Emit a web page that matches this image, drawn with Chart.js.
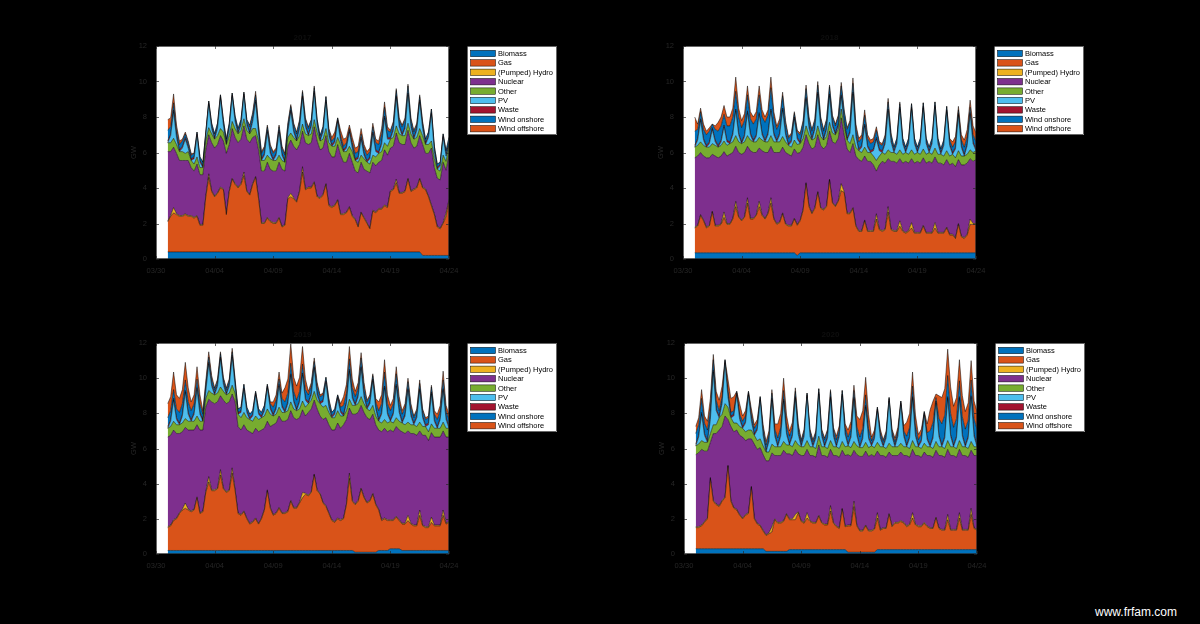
<!DOCTYPE html>
<html>
<head>
<meta charset="utf-8">
<script src="https://cdn.jsdelivr.net/npm/chart.js@4.4.1/dist/chart.umd.min.js"></script>
<style>
  html, body { margin: 0; background: #000; }
  body { width: 1200px; height: 624px; position: relative; overflow: hidden; }
  canvas { position: absolute; }
  #credit { position: absolute; left: 1095px; top: 605px; color: #fff; font: 12px "Liberation Sans", Arial, sans-serif; }
</style>
</head>
<body>
<canvas id="cA" width="470" height="270" style="left:100px;top:20px"></canvas>
<canvas id="cB" width="470" height="270" style="left:627px;top:20px"></canvas>
<canvas id="cC" width="470" height="268" style="left:100px;top:317px"></canvas>
<canvas id="cD" width="470" height="268" style="left:628px;top:317px"></canvas>
<div id="credit">www.frfam.com</div>
<script>
// 6-hourly values, 03/31 00:00 .. 04/24 00:00 (97 points), GW
const xTickLabels = ["03/30", "04/04", "04/09", "04/14", "04/19", "04/24"];
const panelTitles = ["2017", "2018", "2019", "2020"];
const seriesNames = ["Biomass", "Gas", "(Pumped) Hydro", "Nuclear", "Other", "PV", "Waste", "Wind onshore", "Wind offshore"];
const seriesColors = ["#0072BD", "#D95319", "#EDB120", "#7E2F8E", "#77AC30", "#4DBEEE", "#A2142F", "#0072BD", "#D95319"];

// ---- top left ----
const bioA = [
  0.4,0.4,0.4,0.4, 0.4,0.4,0.4,0.4,  0.4,0.4,0.4,0.4, 0.4,0.4,0.4,0.4,
  0.4,0.4,0.4,0.4, 0.4,0.4,0.4,0.4,  0.4,0.4,0.4,0.4, 0.4,0.4,0.4,0.4,
  0.4,0.4,0.4,0.4, 0.4,0.4,0.4,0.4,  0.4,0.4,0.4,0.4, 0.4,0.4,0.4,0.4,
  0.4,0.4,0.4,0.4, 0.4,0.4,0.4,0.4,  0.4,0.4,0.4,0.4, 0.4,0.4,0.4,0.4,
  0.4,0.4,0.4,0.4, 0.4,0.4,0.4,0.4,  0.4,0.4,0.4,0.4, 0.4,0.4,0.4,0.4,
  0.4,0.4,0.4,0.4, 0.4,0.4,0.4,0.2,  0.2,0.2,0.2,0.2, 0.2,0.2,0.2,0.2,
  0.2];
const gasA = [
  1.7,2.0,2.2,2.1, 2.0,2.0,2.1,2.0,  2.0,1.9,2.0,1.5, 1.5,3.1,4.2,3.4,
  3.1,3.3,3.6,3.5, 2.1,3.4,4.1,3.8,  3.6,3.8,4.3,3.4, 3.2,3.8,4.2,3.0,
  1.6,1.6,1.9,1.7, 1.6,1.6,1.9,1.4,  1.5,3.0,3.1,3.0, 2.8,3.4,4.5,3.5,
  3.6,3.6,3.9,3.1, 3.0,3.2,3.8,2.6,  2.5,2.6,2.9,2.1, 2.1,2.2,2.5,2.0,
  1.8,1.4,2.2,1.9, 1.6,1.3,2.3,2.2,  2.4,2.4,2.6,2.5, 3.4,3.5,3.9,3.3,
  3.3,3.4,4.1,3.4, 3.5,3.6,4.1,3.8,  3.7,3.3,2.8,2.3, 1.6,1.5,1.8,2.2,
  3.1];
const hydroA = [
  .05,.05,.3,.05, .05,.05,.05,.05,  .05,.05,.05,.05, .05,.05,.2,.05,
  .05,.05,.05,.05, .05,.05,.05,.05,  .05,.05,.2,.05, .05,.05,.05,.05,
  .05,.05,.05,.05, .05,.05,.05,.05,  .05,.05,.2,.05, .05,.05,.3,.05,
  .05,.05,.05,.05, .05,.05,.05,.05,  .05,.05,.05,.05, .05,.05,.05,.05,
  .05,.05,.05,.05, .05,.05,.05,.05,  .05,.05,.05,.05, .05,.05,.2,.05,
  .05,.05,.05,.05, .05,.05,.05,.05,  .05,.05,.05,.05, .05,.05,.05,.2,
  .05];
const nucA = [
  3.9,3.6,3.4,3.4, 3.1,3.1,3.0,3.1,  2.7,2.6,2.9,2.8, 2.8,2.6,2.2,2.7,
  2.7,2.7,2.9,2.7, 3.4,2.6,2.8,2.6,  2.5,2.5,2.6,2.9, 2.9,2.6,2.3,2.7,
  2.9,2.9,3.1,2.9, 2.9,2.9,3.1,3.2,  3.0,2.9,3.0,2.9, 2.9,2.6,2.0,2.6,
  2.4,2.5,3.1,3.1, 2.7,2.6,2.7,3.0,  2.8,2.7,3.1,3.3, 2.9,2.8,3.0,3.0,
  2.7,3.0,2.8,2.7, 2.9,3.1,2.7,2.6,  2.6,2.7,3.1,2.9, 2.4,2.4,2.6,2.8,
  2.7,2.6,2.7,2.7, 2.3,2.3,2.4,2.4,  2.0,2.4,3.2,2.6, 2.7,2.7,3.4,2.4,
  2.6];
const otherA = [
  0.5,0.5,0.5,0.5, 0.5,0.5,0.4,0.5,  0.4,0.4,0.4,0.4, 0.4,0.5,0.4,0.5,
  0.5,0.5,0.4,0.5, 0.5,0.5,0.4,0.5,  0.5,0.5,0.4,0.5, 0.5,0.5,0.4,0.5,
  0.6,0.6,0.4,0.6, 0.6,0.6,0.4,0.5,  0.5,0.5,0.4,0.5, 0.5,0.5,0.4,0.5,
  0.5,0.5,0.4,0.5, 0.5,0.5,0.4,0.5,  0.6,0.6,0.4,0.6, 0.6,0.6,0.4,0.6,
  0.6,0.6,0.4,0.6, 0.5,0.5,0.4,0.5,  0.5,0.5,0.4,0.5, 0.5,0.5,0.4,0.5,
  0.5,0.5,0.4,0.5, 0.5,0.5,0.4,0.5,  0.5,0.5,0.4,0.5, 0.5,0.5,0.4,0.5,
  0.5];
const pvA = [
  0,0.4,1.5,0.4, 0,0.2,0.8,0.2,  0,0.3,1.2,0.3, 0,0.3,1.3,0.3,
  0,0.4,1.7,0.4, 0,0.4,1.4,0.4,  0,0.3,1.3,0.3, 0,0.4,1.5,0.4,
  0,0.3,1.3,0.3, 0,0.3,1.3,0.3,  0,0.3,1.2,0.3, 0,0.4,1.5,0.4,
  0,0.4,1.5,0.4, 0,0.4,1.5,0.4,  0,0.2,0.9,0.2, 0,0.2,0.8,0.2,
  0,0.2,0.9,0.2, 0,0.3,1.2,0.3,  0,0.4,1.4,0.4, 0,0.4,1.6,0.4,
  0,0.4,1.6,0.4, 0,0.4,1.5,0.4,  0,0.4,1.5,0.4, 0,0.3,1.0,0.3,
  0];
const wasteA = [
  0.1,0.1,0.1,0.1, 0.1,0.1,0.1,0.1,  0.1,0.1,0.1,0.1, 0.1,0.1,0.1,0.1,
  0.1,0.1,0.1,0.1, 0.1,0.1,0.1,0.1,  0.1,0.1,0.1,0.1, 0.1,0.1,0.1,0.1,
  0.1,0.1,0.1,0.1, 0.1,0.1,0.1,0.1,  0.1,0.1,0.1,0.1, 0.1,0.1,0.1,0.1,
  0.1,0.1,0.1,0.1, 0.1,0.1,0.1,0.1,  0.1,0.1,0.1,0.1, 0.1,0.1,0.1,0.1,
  0.1,0.1,0.1,0.1, 0.1,0.1,0.1,0.1,  0.1,0.1,0.1,0.1, 0.1,0.1,0.1,0.1,
  0.1,0.1,0.1,0.1, 0.1,0.1,0.1,0.1,  0.1,0.1,0.1,0.1, 0.1,0.1,0.1,0.1,
  0.1];
const windOnA = [
  0.6,0.4,0.4,0.3, 0.3,0.3,0.2,0.2,  0.2,0.2,0.1,0.2, 0.2,0.1,0.1,0.2,
  0.2,0.2,0.1,0.2, 0.2,0.2,0.1,0.2,  0.2,0.2,0.1,0.2, 0.3,0.3,0.3,0.3,
  0.3,0.3,0.2,0.3, 0.3,0.2,0.2,0.3,  0.3,0.3,0.2,0.3, 0.3,0.3,0.2,0.3,
  0.3,0.3,0.2,0.2, 0.2,0.2,0.2,0.2,  0.2,0.2,0.1,0.2, 0.2,0.2,0.1,0.2,
  0.3,0.3,0.2,0.3, 0.3,0.3,0.3,0.4,  0.4,0.5,0.5,0.4, 0.3,0.3,0.3,0.3,
  0.4,0.4,0.4,0.3, 0.3,0.2,0.2,0.2,  0.2,0.2,0.2,0.2, 0.2,0.1,0.1,0.2,
  0.3];
const windOffA = [
  0.6,0.5,0.5,0.3, 0.2,0.1,0.1,0.1,  0.1,0,0,0, 0,0,0,0,
  0,0,0,0, 0,0,0,0,  0,0,0,0, 0.1,0.1,0.2,0.1,
  0.1,0.1,0.1,0.1, 0.1,0.1,0.1,0.1,  0.1,0.1,0.1,0.1, 0.1,0.1,0.1,0.1,
  0.1,0,0.1,0, 0,0,0,0.1,  0.2,0.3,0,0.3, 0.4,0.3,0.2,0.3,
  0.3,0.3,0.3,0.2, 0.2,0.2,0.2,0.2,  0.2,0.3,0.3,0.2, 0.1,0.1,0.1,0.1,
  0.1,0.1,0.1,0.1, 0.1,0.1,0.1,0.1,  0,0,0,0, 0,0,0,0,
  0];

// ---- top right ----
const bioB = [
  .35,.35,.35,.35, .35,.35,.35,.35,  .35,.35,.35,.35, .35,.35,.35,.35,
  .35,.35,.35,.35, .35,.35,.35,.35,  .35,.35,.35,.35, .35,.35,.35,.35,
  .35,.35,.35,.2, .35,.35,.35,.35,  .35,.35,.35,.35, .35,.35,.35,.35,
  .35,.35,.35,.35, .35,.35,.35,.35,  .35,.35,.35,.35, .35,.35,.35,.35,
  .35,.35,.35,.35, .35,.35,.35,.35,  .35,.35,.35,.35, .35,.35,.35,.35,
  .35,.35,.35,.35, .35,.35,.35,.35,  .35,.35,.35,.35, .35,.35,.35,.35,
  .35];
const gasB = [
  1.4,1.5,2.1,1.8, 1.4,1.5,2.3,1.5,  1.5,1.6,2.0,1.6, 1.6,1.9,2.6,2.0,
  1.8,2.0,2.8,1.9, 1.9,2.1,2.6,2.1,  1.9,2.2,2.8,1.9, 1.6,1.7,2.2,1.6,
  1.5,1.5,1.9,1.7, 1.8,2.4,3.9,2.6,  2.2,2.5,3.4,2.5, 2.4,2.6,4.1,2.8,
  2.6,2.9,3.5,3.4, 2.2,2.2,2.5,1.5,  1.2,1.2,1.8,1.2, 1.2,1.2,1.9,1.3,
  1.2,1.3,2.3,1.3, 1.2,1.2,1.5,1.2,  1.1,1.2,1.4,1.1, 1.1,1.1,1.5,1.1,
  1.1,1.1,1.4,1.1, 1.1,1.1,1.4,1.0,  1.0,0.8,1.6,0.9, 0.8,1.0,1.6,1.6,
  1.6];
const hydroB = [
  .05,.05,.05,.05, .05,.05,.05,.05,  .05,.05,.3,.05, .05,.05,.3,.05,
  .05,.05,.3,.05, .05,.05,.3,.05,  .05,.05,.3,.05, .05,.05,.05,.05,
  .05,.05,.05,.05, .05,.05,.05,.05,  .05,.05,.05,.05, .05,.05,.05,.05,
  .05,.05,.4,.05, .05,.05,.05,.05,  .05,.05,.05,.05, .05,.05,.3,.05,
  .05,.05,.3,.05, .05,.05,.3,.05,  .05,.05,.3,.05, .05,.05,.05,.05,
  .05,.05,.3,.05, .05,.05,.05,.05,  .05,.05,.05,.05, .05,.05,.3,.05,
  .05];
const nucB = [
  3.9,3.9,3.5,3.6, 3.9,3.8,3.2,3.9,  3.8,3.8,3.4,3.8, 3.9,3.7,3.1,3.6,
  3.7,3.6,2.9,3.8, 3.7,3.5,3.0,3.6,  3.7,3.4,2.9,3.7, 4.0,3.9,3.7,4.0,
  4.0,3.9,3.9,4.0, 3.8,3.5,2.7,3.5,  3.6,3.4,3.2,3.5, 3.4,3.4,2.7,3.4,
  3.5,3.5,3.7,3.2, 3.6,3.4,3.6,3.9,  4.0,3.9,3.6,3.9, 3.9,3.7,2.4,3.6,
  3.9,3.7,2.7,3.8, 3.9,3.8,3.5,3.8,  4.0,3.8,3.6,3.9, 4.0,3.9,3.8,3.9,
  4.0,3.9,3.7,3.9, 3.9,3.8,3.8,3.9,  4.0,4.0,3.6,4.0, 4.1,4.0,3.4,3.5,
  3.6];
const otherB = [
  0.6,0.6,0.6,0.6, 0.6,0.6,0.6,0.6,  0.6,0.6,0.6,0.6, 0.6,0.6,0.6,0.6,
  0.6,0.6,0.6,0.6, 0.6,0.6,0.6,0.6,  0.6,0.6,0.6,0.6, 0.6,0.6,0.6,0.6,
  0.5,0.5,0.5,0.5, 0.5,0.5,0.5,0.5,  0.5,0.5,0.5,0.5, 0.5,0.5,0.5,0.5,
  0.5,0.5,0.5,0.5, 0.5,0.5,0.5,0.5,  0.5,0.5,0.5,0.5, 0.5,0.5,0.6,0.5,
  0.5,0.5,0.5,0.5, 0.5,0.5,0.5,0.5,  0.5,0.5,0.5,0.5, 0.5,0.5,0.5,0.5,
  0.5,0.5,0.5,0.5, 0.5,0.5,0.5,0.5,  0.5,0.5,0.5,0.5, 0.5,0.5,0.5,0.5,
  0.5];
const pvB = [
  0,0.3,1.2,0.3, 0,0.2,0.8,0.2,  0,0.2,0.8,0.2, 0,0.4,1.4,0.4,
  0,0.3,1.3,0.3, 0,0.3,1.3,0.3,  0,0.4,1.4,0.4, 0,0.4,1.5,0.4,
  0,0.3,1.2,0.3, 0,0.4,1.5,0.4,  0,0.5,1.8,0.5, 0,0.4,1.5,0.4,
  0,0.2,0.7,0.2, 0,0.6,2.3,0.6,  0,0.3,1.2,0.3, 0,0.3,1.2,0.3,
  0,0.6,2.2,0.6, 0,0.6,2.3,0.6,  0,0.6,2.3,0.6, 0,0.6,2.3,0.6,
  0,0.6,2.3,0.6, 0,0.6,2.2,0.6,  0,0.5,2.0,0.5, 0,0.5,2.0,0.5,
  0];
const wasteB = [
  0.1,0.1,0.1,0.1, 0.1,0.1,0.1,0.1,  0.1,0.1,0.1,0.1, 0.1,0.1,0.1,0.1,
  0.1,0.1,0.1,0.1, 0.1,0.1,0.1,0.1,  0.1,0.1,0.1,0.1, 0.1,0.1,0.1,0.1,
  0.1,0.1,0.1,0.1, 0.1,0.1,0.1,0.1,  0.1,0.1,0.1,0.1, 0.1,0.1,0.1,0.1,
  0.1,0.1,0.1,0.1, 0.1,0.1,0.1,0.1,  0.1,0.1,0.1,0.1, 0.1,0.1,0.1,0.1,
  0.1,0.1,0.1,0.1, 0.1,0.1,0.1,0.1,  0.1,0.1,0.1,0.1, 0.1,0.1,0.1,0.1,
  0.1,0.1,0.1,0.1, 0.1,0.1,0.1,0.1,  0.1,0.1,0.1,0.1, 0.1,0.1,0.1,0.1,
  0.1];
const windOnB = [
  0.8,0.5,0.4,0.5, 0.6,0.6,0.2,0.6,  0.8,0.8,0.6,0.8, 0.9,0.9,1.0,0.9,
  0.8,0.8,0.9,0.8, 0.9,0.9,1.0,0.9,  1.0,1.0,1.2,0.9, 0.6,0.6,0.7,0.5,
  0.3,0.3,0.2,0.3, 0.4,0.4,0.5,0.4,  0.4,0.4,0.4,0.4, 0.4,0.4,0.4,0.4,
  0.4,0.4,0.5,0.5, 0.5,0.5,0.5,0.4,  0.4,0.4,0.5,0.4, 0.4,0.4,0.4,0.3,
  0.3,0.3,0.4,0.3, 0.2,0.2,0.2,0.2,  0.2,0.2,0.2,0.2, 0.2,0.2,0.2,0.2,
  0.2,0.2,0.2,0.2, 0.2,0.2,0.2,0.2,  0.3,0.3,0.2,0.3, 0.4,0.4,0.3,0.4,
  0.4];
const windOffB = [
  0.8,0.3,0.2,0.3, 0.2,0.2,0,0.2,  0.5,0.5,0.5,0.5, 0.5,0.5,0.8,0.5,
  0.4,0.4,0.5,0.4, 0.4,0.4,0.5,0.4,  0.3,0.3,0.6,0.3, 0.2,0.2,0.2,0.2,
  0.1,0.1,0.1,0.1, 0.1,0.1,0.2,0.1,  0.1,0.1,0.2,0.1, 0.1,0.1,0.1,0.1,
  0.1,0.1,0.2,0.1, 0.1,0.1,0.3,0.2,  0.2,0.2,0.3,0.2, 0.2,0.2,0.2,0.1,
  0.1,0.1,0.2,0.1, 0,0,0.1,0,  0,0,0,0, 0,0,0,0,
  0,0,0,0, 0,0,0,0.1,  0.3,0.3,0.2,0.3, 0.4,0.4,0.4,0.5,
  0.5];

// ---- bottom left ----
const bioC = [
  0.2,0.2,0.2,0.2, 0.2,0.2,0.2,0.2,  0.2,0.2,0.2,0.2, 0.2,0.2,0.2,0.2,
  0.2,0.2,0.2,0.2, 0.2,0.2,0.2,0.2,  0.2,0.2,0.2,0.2, 0.2,0.2,0.2,0.2,
  0.2,0.2,0.2,0.2, 0.2,0.2,0.2,0.2,  0.2,0.2,0.2,0.2, 0.2,0.2,0.2,0.2,
  0.2,0.2,0.2,0.2, 0.2,0.2,0.2,0.2,  0.2,0.2,0.2,0.2, 0.2,0.2,0.2,0.2,
  0.1,0.1,0.1,0.1, 0.1,0.1,0.1,0.1,  0.2,0.2,0.2,0.2, 0.3,0.3,0.3,0.3,
  0.2,0.2,0.2,0.2, 0.2,0.2,0.2,0.2,  0.2,0.2,0.2,0.2, 0.2,0.2,0.2,0.2,
  0.2];
const gasC = [
  1.3,1.4,1.7,1.8, 2.1,2.3,2.4,2.3,  2.2,2.3,3.0,2.1, 2.2,3.3,3.9,3.4,
  3.4,3.5,4.3,3.5, 3.3,3.4,4.4,3.4,  2.1,2.0,2.2,1.8, 1.5,1.6,1.8,1.5,
  1.8,2.3,3.4,2.4, 2.0,2.1,2.4,2.1,  2.1,2.2,2.8,2.4, 2.4,2.7,3.0,3.2,
  3.1,3.3,4.3,3.4, 3.2,2.7,2.5,2.1,  1.7,1.6,1.8,1.7, 1.8,2.6,4.1,2.8,
  2.7,2.9,3.6,3.1, 2.8,2.9,3.3,2.7,  2.3,1.7,1.8,1.7, 1.6,1.6,1.8,1.6,
  1.5,1.5,1.7,1.5, 1.4,1.4,2.0,1.4,  1.3,1.3,1.6,1.4, 1.4,1.4,2.0,1.5,
  1.6];
const hydroC = [
  .05,.05,.05,.05, .05,.05,.3,.05,  .05,.05,.05,.05, .05,.05,.3,.05,
  .05,.05,.3,.05, .05,.05,.3,.05,  .05,.05,.05,.05, .05,.05,.05,.05,
  .05,.05,.05,.05, .05,.05,.05,.05,  .05,.05,.05,.05, .05,.05,.3,.05,
  .05,.05,.05,.05, .05,.05,.05,.05,  .05,.05,.05,.05, .05,.05,.3,.05,
  .05,.05,.05,.05, .05,.05,.05,.05,  .05,.05,.05,.05, .05,.05,.05,.05,
  .05,.05,.3,.05, .05,.05,.3,.05,  .05,.05,.3,.05, .05,.05,.3,.05,
  .05];
const nucC = [
  5.1,5.1,5.1,4.8, 4.5,4.4,4.3,4.5,  4.6,4.5,4.1,4.7, 4.6,4.8,4.4,5.0,
  4.9,4.9,4.2,5.0, 5.0,5.0,4.2,5.0,  4.9,4.8,4.9,5.0, 5.2,5.0,5.1,5.2,
  5.0,4.6,3.9,4.6, 5.1,5.1,5.2,5.2,  5.2,5.2,5.1,5.1, 5.0,4.8,4.7,4.4,
  4.7,4.7,4.2,4.6, 4.4,4.7,5.0,5.0,  5.1,5.2,5.4,5.2, 5.3,4.8,3.7,4.9,
  5.1,5.0,4.7,4.8, 4.8,4.6,4.5,4.5,  4.5,5.0,5.1,5.0, 5.1,5.0,5.1,5.1,
  5.2,5.1,4.8,5.1, 5.2,5.1,4.5,5.1,  5.2,4.9,4.8,5.0, 5.0,5.0,4.5,4.9,
  4.8];
const otherC = [
  0.5,0.5,0.5,0.5, 0.5,0.5,0.5,0.5,  0.5,0.5,0.5,0.5, 0.5,0.5,0.5,0.5,
  0.5,0.5,0.5,0.5, 0.5,0.5,0.5,0.5,  0.7,0.7,0.7,0.7, 0.7,0.7,0.7,0.7,
  0.7,0.7,0.7,0.7, 0.5,0.5,0.5,0.5,  0.5,0.5,0.5,0.5, 0.5,0.5,0.5,0.5,
  0.5,0.5,0.5,0.5, 0.7,0.7,0.7,0.7,  0.7,0.7,0.7,0.7, 0.5,0.5,0.5,0.5,
  0.5,0.5,0.5,0.5, 0.5,0.5,0.5,0.5,  0.5,0.5,0.5,0.5, 0.5,0.5,0.5,0.5,
  0.5,0.5,0.5,0.5, 0.5,0.5,0.5,0.5,  0.5,0.5,0.5,0.5, 0.5,0.5,0.5,0.5,
  0.5];
const pvC = [
  0,0.3,1.2,0.3, 0,0.4,1.5,0.4,  0,0.4,1.5,0.4, 0,0.4,1.5,0.4,
  0,0.4,1.6,0.4, 0,0.4,1.6,0.4,  0,0.3,1.3,0.3, 0,0.3,1.2,0.3,
  0,0.3,1.2,0.3, 0,0.3,1.2,0.3,  0,0.4,1.5,0.4, 0,0.4,1.5,0.4,
  0,0.3,1.3,0.3, 0,0.3,1.3,0.3,  0,0.2,0.7,0.2, 0,0.4,1.6,0.4,
  0,0.4,1.6,0.4, 0,0.4,1.4,0.4,  0,0.5,1.8,0.5, 0,0.5,1.8,0.5,
  0,0.5,1.8,0.5, 0,0.5,1.8,0.5,  0,0.4,1.7,0.4, 0,0.5,1.8,0.5,
  0];
const wasteC = [
  0.1,0.1,0.1,0.1, 0.1,0.1,0.1,0.1,  0.1,0.1,0.1,0.1, 0.1,0.1,0.1,0.1,
  0.1,0.1,0.1,0.1, 0.1,0.1,0.1,0.1,  0.1,0.1,0.1,0.1, 0.1,0.1,0.1,0.1,
  0.1,0.1,0.1,0.1, 0.1,0.1,0.1,0.1,  0.1,0.1,0.1,0.1, 0.1,0.1,0.1,0.1,
  0.1,0.1,0.1,0.1, 0.1,0.1,0.1,0.1,  0.1,0.1,0.1,0.1, 0.1,0.1,0.1,0.1,
  0.1,0.1,0.1,0.1, 0.1,0.1,0.1,0.1,  0.1,0.1,0.1,0.1, 0.1,0.1,0.1,0.1,
  0.1,0.1,0.1,0.1, 0.1,0.1,0.1,0.1,  0.1,0.1,0.1,0.1, 0.1,0.1,0.1,0.1,
  0.1];
const windOnC = [
  0.5,0.5,0.5,0.5, 0.6,0.6,0.6,0.6,  0.5,0.5,0.5,0.5, 0.3,0.3,0.3,0.3,
  0.2,0.2,0.2,0.2, 0.2,0.2,0.2,0.2,  0.2,0.2,0.2,0.2, 0.2,0.2,0.1,0.2,
  0.2,0.2,0.1,0.2, 0.4,0.4,0.3,0.4,  0.5,0.5,0.6,0.5, 0.5,0.5,0.5,0.5,
  0.4,0.4,0.3,0.4, 0.3,0.3,0.2,0.3,  0.2,0.2,0.1,0.2, 0.5,0.5,0.6,0.5,
  0.4,0.4,0.5,0.4, 0.3,0.3,0.2,0.3,  0.5,0.5,0.8,0.5, 0.5,0.5,0.6,0.5,
  0.4,0.4,0.4,0.4, 0.3,0.3,0.3,0.3,  0.3,0.3,0.3,0.3, 0.4,0.4,0.5,0.4,
  0.4];
const windOffC = [
  0.8,0.8,1.0,0.8, 0.8,0.8,1.0,0.8,  0.5,0.5,0.7,0.5, 0.2,0.2,0.3,0.2,
  0.1,0.1,0.1,0.1, 0.1,0.1,0.2,0.1,  0,0,0,0, 0,0,0,0,
  0,0,0,0.1, 0.3,0.3,0.4,0.3,  0.8,0.8,1.1,0.8, 0.8,0.8,1.0,0.6,
  0.2,0.2,0.2,0.2, 0.1,0.1,0,0.1,  0,0,0,0.2, 0.5,0.5,0.7,0.5,
  0.3,0.3,0.3,0.3, 0.1,0.1,0.1,0.2,  0.5,0.5,0.7,0.5, 0.3,0.3,0.4,0.3,
  0.2,0.2,0.2,0.2, 0.1,0.1,0.2,0.1,  0.1,0.1,0.1,0.2, 0.3,0.3,0.5,0.3,
  0.3];

// ---- bottom right ----
const bioD = [
  0.3,0.3,0.3,0.3, 0.3,0.3,0.3,0.3,  0.3,0.3,0.3,0.3, 0.3,0.3,0.3,0.3,
  0.3,0.3,0.3,0.3, 0.3,0.3,0.3,0.3,  .15,.15,.15,.15, .15,.15,.15,.15,
  .25,.25,.25,.25, .25,.25,.25,.25,  .25,.25,.25,.25, .25,.25,.25,.25,
  .25,.25,.25,.25, 0.1,0.1,0.1,0.1,  0.1,0.1,0.1,0.1, 0.1,0.1,.25,.25,
  .25,.25,.25,.25, .25,.25,.25,.25,  .25,.25,.25,.25, .25,.25,.25,.25,
  .25,.25,.25,.25, .25,.25,.25,.25,  .25,.25,.25,.25, .25,.25,.25,.25,
  .25];
const gasD = [
  1.2,1.2,1.3,1.5, 1.7,4.0,2.7,2.5,  2.4,2.7,2.9,4.7, 2.7,2.3,2.2,1.9,
  1.7,1.9,2.0,3.5, 1.7,1.4,1.3,1.0,  0.9,1.0,1.1,1.8, 1.6,1.6,1.7,2.1,
  1.7,1.7,1.7,2.1, 1.6,1.5,1.8,1.6,  1.5,1.5,1.9,1.5, 1.4,1.4,2.2,1.5,
  1.3,1.2,2.3,1.3, 1.5,1.5,2.6,1.5,  1.2,1.2,1.5,1.2, 1.2,1.3,1.8,1.1,
  1.2,1.2,2.0,1.3, 1.5,1.5,1.6,1.5,  1.3,1.4,1.8,1.4, 1.3,1.3,1.5,1.3,
  1.2,1.2,1.8,1.2, 1.1,1.1,1.7,1.1,  1.1,1.1,1.8,1.1, 1.1,1.1,2.0,1.2,
  1.1];
const hydroD = [
  .05,.05,.05,.05, .05,.05,.05,.05,  .05,.05,.05,.05, .05,.05,.05,.05,
  .05,.05,.05,.05, .05,.05,.05,.05,  .05,.05,.3,.05, .05,.05,.05,.05,
  .05,.05,.3,.05, .05,.05,.3,.05,  .05,.05,.05,.05, .05,.05,.3,.05,
  .05,.05,.05,.05, .05,.05,.3,.05,  .05,.05,.05,.05, .05,.05,.3,.05,
  .05,.05,.05,.05, .05,.05,.05,.05,  .05,.05,.3,.05, .05,.05,.05,.05,
  .05,.05,.05,.05, .05,.05,.3,.05,  .05,.05,.3,.05, .05,.05,.35,.05,
  .05];
const nucD = [
  4.1,4.2,4.3,4.0, 3.8,2.0,3.8,4.0,  4.3,4.2,4.6,2.6, 4.2,4.3,4.5,4.5,
  4.6,4.2,4.2,2.7, 4.2,4.2,4.4,4.3,  4.2,4.1,4.2,3.6, 3.8,3.8,4.0,3.4,
  3.7,3.6,3.7,3.3, 3.7,3.8,3.6,3.7,  3.8,3.7,4.0,3.8, 3.9,3.8,3.2,3.8,
  4.0,4.0,3.3,4.0, 4.0,3.9,2.9,4.0,  4.2,4.2,4.2,4.2, 4.3,4.1,3.5,4.2,
  4.1,4.0,3.5,4.0, 3.8,3.8,3.9,3.8,  4.0,3.8,3.6,3.9, 4.0,3.9,4.0,4.0,
  4.1,4.0,3.8,4.1, 4.2,4.1,3.7,4.2,  4.2,4.1,3.6,4.2, 4.2,4.1,3.3,4.1,
  4.2];
const otherD = [
  0.5,0.5,0.5,0.5, 0.5,0.5,0.5,0.5,  0.7,0.7,0.7,0.7, 0.5,0.5,0.4,0.5,
  0.5,0.5,0.5,0.5, 0.5,0.5,0.5,0.5,  0.5,0.5,0.5,0.5, 0.5,0.5,0.5,0.5,
  0.5,0.5,0.5,0.5, 0.5,0.5,0.5,0.5,  0.5,0.5,0.5,0.5, 0.5,0.5,0.5,0.5,
  0.5,0.5,0.5,0.5, 0.5,0.5,0.5,0.5,  0.5,0.5,0.5,0.5, 0.5,0.5,0.5,0.5,
  0.5,0.5,0.5,0.5, 0.5,0.5,0.5,0.5,  0.5,0.5,0.5,0.5, 0.5,0.5,0.5,0.5,
  0.5,0.5,0.5,0.5, 0.5,0.5,0.5,0.5,  0.5,0.5,0.5,0.5, 0.5,0.5,0.5,0.5,
  0.5];
const pvD = [
  0,0.4,1.5,0.4, 0,0.8,3.0,0.8,  0,0.6,2.3,0.6, 0,0.4,1.6,0.4,
  0,0.5,2.0,0.5, 0,0.6,2.2,0.6,  0,0.6,2.5,0.6, 0,0.6,2.3,0.6,
  0,0.6,2.4,0.6, 0,0.6,2.5,0.6,  0,0.6,2.4,0.6, 0,0.6,2.4,0.6,
  0,0.7,2.6,0.7, 0,0.6,2.4,0.6,  0,0.5,2.0,0.5, 0,0.5,1.8,0.5,
  0,0.6,2.4,0.6, 0,0.6,2.2,0.6,  0,0.6,2.4,0.6, 0,0.4,1.6,0.4,
  0,0.6,2.2,0.6, 0,0.6,2.4,0.6,  0,0.6,2.4,0.6, 0,0.6,2.5,0.6,
  0];
const wasteD = [
  0.1,0.1,0.1,0.1, 0.1,0.1,0.1,0.1,  0.1,0.1,0.1,0.1, 0.1,0.1,0.1,0.1,
  0.1,0.1,0.1,0.1, 0.1,0.1,0.1,0.1,  0.1,0.1,0.1,0.1, 0.1,0.1,0.1,0.1,
  0.1,0.1,0.1,0.1, 0.1,0.1,0.1,0.1,  0.1,0.1,0.1,0.1, 0.1,0.1,0.1,0.1,
  0.1,0.1,0.1,0.1, 0.1,0.1,0.1,0.1,  0.1,0.1,0.1,0.1, 0.1,0.1,0.1,0.1,
  0.1,0.1,0.1,0.1, 0.1,0.1,0.1,0.1,  0.1,0.1,0.1,0.1, 0.1,0.1,0.1,0.1,
  0.1,0.1,0.1,0.1, 0.1,0.1,0.1,0.1,  0.1,0.1,0.1,0.1, 0.1,0.1,0.1,0.1,
  0.1];
const windOnD = [
  0.6,0.6,0.8,0.6, 0.6,0.6,0.6,0.5,  0.3,0.3,0.1,0.3, 0.2,0.2,0.1,0.2,
  0.3,0.3,0.1,0.3, 0.3,0.3,0.1,0.3,  0.3,0.3,0.3,0.3, 0.4,0.4,0.5,0.4,
  0.4,0.4,0.3,0.3, 0.2,0.2,0.1,0.2,  0.2,0.2,0.2,0.2, 0.3,0.3,0.3,0.3,
  0.3,0.3,0.2,0.3, 0.4,0.4,0.4,0.4,  0.5,0.5,0.6,0.5, 0.2,0.2,0.1,0.2,
  0.2,0.2,0.1,0.2, 0.2,0.2,0.1,0.2,  0.5,0.5,0.6,0.5, 0.3,0.3,0.1,0.3,
  0.8,0.8,0.2,0.9, 1.2,1.2,1.2,1.2,  1.0,1.0,0.9,1.0, 0.9,0.9,0.9,0.9,
  0.9];
const windOffD = [
  0.4,0.4,0.5,0.4, 0.5,0.5,0.3,0.5,  0.6,0.6,0,0.6, 0.8,0.8,0,0.6,
  0.3,0.3,0,0.3, 0.2,0.2,0,0.2,  0.2,0.2,0.2,0.3, 0.8,0.8,0.7,0.6,
  0.3,0.3,0.2,0.2, 0.1,0.1,0,0.1,  0.1,0.1,0,0.1, 0.1,0.1,0.1,0.1,
  0.2,0.2,0,0.2, 0.4,0.4,0.3,0.6,  1.0,1.0,1.0,0.8, 0.2,0.2,0,0.2,
  0.1,0.1,0,0.1, 0.2,0.2,0,0.3,  0.8,0.8,0.8,0.6, 0.3,0.3,0,0.5,
  1.2,1.2,0.2,1.3, 1.5,1.5,1.5,1.5,  1.2,1.2,1.2,1.2, 1.0,1.0,1.1,1.0,
  1.0];

const startDay = 1;     // 03/31 relative to 03/30
const stepDays = 0.25;  // 6 h
const axisColor = "#262626";
const fontFamily = '"Liberation Sans", Arial, sans-serif';
Chart.defaults.font.family = fontFamily;

// white axes box, inner ticks, title and boxed legend like the original figure
const axesBox = {
  id: "axesBox",
  beforeDraw(chart) {
    const { ctx, chartArea: a } = chart;
    ctx.save();
    ctx.fillStyle = "#fff";
    ctx.fillRect(a.left, a.top, a.right - a.left, a.bottom - a.top);
    ctx.restore();
  },
  afterDraw(chart, args, opts) {
    const { ctx, chartArea: a, scales } = chart;
    ctx.save();
    ctx.strokeStyle = axisColor;
    ctx.lineWidth = 0.7;
    ctx.strokeRect(a.left + 0.5, a.top + 0.5, a.right - a.left - 1, a.bottom - a.top - 1);
    ctx.beginPath();
    scales.y.ticks.forEach(t => {
      const y = Math.round(scales.y.getPixelForValue(t.value)) + 0.5;
      ctx.moveTo(a.left, y); ctx.lineTo(a.left + 3, y);
      ctx.moveTo(a.right - 3, y); ctx.lineTo(a.right, y);
    });
    scales.x.ticks.forEach(t => {
      const x = Math.round(scales.x.getPixelForValue(t.value)) + 0.5;
      ctx.moveTo(x, a.bottom); ctx.lineTo(x, a.bottom - 3);
      ctx.moveTo(x, a.top); ctx.lineTo(x, a.top + 3);
    });
    ctx.stroke();

    // title
    ctx.fillStyle = "#0e0e0e";
    ctx.font = "bold 8px " + fontFamily;
    ctx.textAlign = "center";
    ctx.textBaseline = "bottom";
    ctx.fillText(opts.title, (a.left + a.right) / 2, a.top - 4);

    // legend
    const lx = a.right + 18, ly = a.top, lw = 90, lh = 89;
    ctx.fillStyle = "#fff";
    ctx.fillRect(lx, ly, lw, lh);
    ctx.strokeStyle = axisColor;
    ctx.lineWidth = 0.7;
    ctx.strokeRect(lx + 0.5, ly + 0.5, lw - 1, lh - 1);
    ctx.font = "7.5px " + fontFamily;
    ctx.textAlign = "left";
    ctx.textBaseline = "middle";
    chart.data.datasets.forEach((ds, i) => {
      const yc = ly + 7.5 + i * 9.4;
      ctx.fillStyle = ds.backgroundColor;
      ctx.fillRect(lx + 3.5, yc - 3.2, 25, 6.4);
      ctx.lineWidth = 0.5;
      ctx.strokeStyle = "#000";
      ctx.strokeRect(lx + 3.5, yc - 3.2, 25, 6.4);
      ctx.fillStyle = "#000";
      ctx.fillText(ds.label, lx + 31, yc + 0.5);
    });
    ctx.restore();
  }
};

function makeChart(canvasId, title, series) {
  const datasets = series.map((vals, k) => ({
    label: seriesNames[k],
    data: vals.map((v, i) => ({ x: startDay + i * stepDays, y: v })),
    backgroundColor: seriesColors[k],
    borderColor: "#000",
    borderWidth: 0.5,
    pointRadius: 0,
    fill: k === 0 ? "origin" : "-1"
  }));

  return new Chart(document.getElementById(canvasId), {
    type: "line",
    data: { datasets },
    options: {
      responsive: false,
      animation: false,
      layout: { padding: { left: 0, right: 121, top: 26, bottom: 0 } },
      plugins: {
        legend: { display: false },
        tooltip: { enabled: false },
        axesBox: { title }
      },
      scales: {
        x: {
          type: "linear", min: 0, max: 25,
          grid: { display: false, drawTicks: false },
          border: { display: false },
          ticks: {
            stepSize: 5, autoSkip: false, maxRotation: 0, padding: 7,
            color: axisColor, font: { size: 7.5 },
            callback: v => xTickLabels[Math.round(v / 5)]
          },
          afterFit: s => { s.height = 31; }
        },
        y: {
          stacked: true, min: 0, max: 12,
          grid: { display: false, drawTicks: false },
          border: { display: false },
          ticks: { stepSize: 2, padding: 9, color: axisColor, font: { size: 7.5 } },
          title: { display: true, text: "GW", color: axisColor, font: { size: 7.5 }, padding: { top: 29.5, bottom: 0 } },
          afterFit: s => { s.width = 56; }
        }
      }
    },
    plugins: [axesBox]
  });
}

makeChart("cA", panelTitles[0], [bioA, gasA, hydroA, nucA, otherA, pvA, wasteA, windOnA, windOffA]);
makeChart("cB", panelTitles[1], [bioB, gasB, hydroB, nucB, otherB, pvB, wasteB, windOnB, windOffB]);
makeChart("cC", panelTitles[2], [bioC, gasC, hydroC, nucC, otherC, pvC, wasteC, windOnC, windOffC]);
makeChart("cD", panelTitles[3], [bioD, gasD, hydroD, nucD, otherD, pvD, wasteD, windOnD, windOffD]);
</script>
</body>
</html>
